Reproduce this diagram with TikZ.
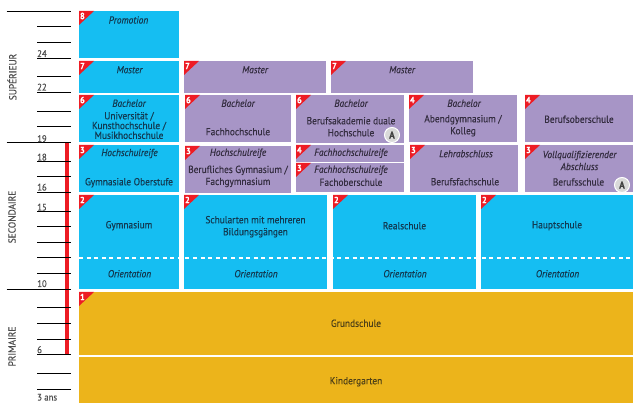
\documentclass[tikz,border=0pt]{standalone}
\usepackage{fontspec}
\setmainfont{PT Sans}[FakeStretch=0.92,FakeBold=0.35]
\usepackage{tikz}
\usetikzlibrary{positioning}

\definecolor{schoolblue}{HTML}{15BEF2}
\definecolor{schoolpurple}{HTML}{A795C6}
\definecolor{schoolyellow}{HTML}{ECB41B}
\definecolor{levelred}{HTML}{ED1C24}
\definecolor{inkblue}{HTML}{123A52}
\definecolor{inkpurple}{HTML}{342D40}
\definecolor{inkyellow}{HTML}{4F4117}

% level number in the corner of a box
\newcommand{\levelmark}[2]{%
  \fill[levelred] (#1.north west) -- ++(15,0) -- ++(-15,14) -- cycle;
  \node[leveldigit] (#1digit) at ([xshift=3.4pt,yshift=-5pt]#1.north west) {#2};
}

\begin{document}
\begin{tikzpicture}[
    x=1pt,y=-1pt,
    schoolbox/.style={anchor=north west,inner sep=0pt,outer sep=0pt},
    bluebox/.style={schoolbox,fill=schoolblue},
    purplebox/.style={schoolbox,fill=schoolpurple},
    yellowbox/.style={schoolbox,fill=schoolyellow},
    txt/.style={inner sep=0pt,font=\fontsize{10.2}{12}\selectfont,align=center,text=inkblue},
    ptxt/.style={txt,text=inkpurple},
    ytxt/.style={txt,text=inkyellow},
    ttl/.style={txt,font=\fontsize{10.2}{12}\itshape},
    pttl/.style={ttl,text=inkpurple},
    leveldigit/.style={inner sep=0pt,text=white,font=\fontsize{9}{9}\bfseries},
    agrade/.style={circle,fill=black!15,draw=white,line width=1pt,inner sep=0pt,minimum size=15pt,text=black!75,font=\fontsize{10}{10}\bfseries},
    agelbl/.style={anchor=base west,inner sep=0pt,text=black!70,font=\fontsize{9.5}{9}\selectfont},
    sidelbl/.style={rotate=90,inner sep=0pt,text=black!70,font=\fontsize{10.2}{9}\selectfont},
    tick/.style={line width=0.8pt,black},
  ]
  \useasboundingbox (0,0) rectangle (633,403);

  % age scale
  \fill[levelred] (65,142) rectangle (69,354.5);
  \foreach \y in {26.7,42.3,58,76.7,92.3,111,126.7,161.3,176.7,192.3,211,226.3,242.3,257.7,273.3,307.7,323.3,339,354.3,373.3,389}
    \draw[tick] (37,\y) -- (71,\y);
  \foreach \y in {11,142.3,289}
    \draw[tick] (6.5,\y) -- (71,\y);
  \node[agelbl] (age24) at (37,57) {24};
  \node[agelbl] (age22) at (37,90.5) {22};
  \node[agelbl] (age19) at (37,142) {19};
  \node[agelbl] (age18) at (37,160.5) {18};
  \node[agelbl] (age16) at (37,190.5) {16};
  \node[agelbl] (age15) at (37,210.5) {15};
  \node[agelbl] (age10) at (37,287) {10};
  \node[agelbl] (age6) at (37,353) {6};
  \node[agelbl] (age3) at (37,400.5) {3 ans};
  \node[sidelbl] (superieur) at (12,77) {SUPÉRIEUR};
  \node[sidelbl] (secondaire) at (12,217) {SECONDAIRE};
  \node[sidelbl] (primaire) at (12,346.5) {PRIMAIRE};

  % first column
  \node[bluebox,minimum width=100pt,minimum height=47pt] (promotion) at (79,11) {};
  \node[bluebox,minimum width=100pt,minimum height=32pt] (master) at (79,61) {};
  \node[bluebox,minimum width=100pt,minimum height=47pt] (uni) at (79,95) {};
  \node[bluebox,minimum width=100pt,minimum height=47pt] (oberstufe) at (79,145) {};
  \node[ttl] (promotionttl) at (128.5,20) {Promotion};
  \node[ttl] (masterttl) at (129.5,69.7) {Master};
  \node[ttl] (unittl) at (129,103.3) {Bachelor};
  \node[txt,font=\fontsize{10.2}{9.8}\selectfont] (unitxt) at (129,125.5) {Universität /\\Kunsthochschule /\\Musikhochschule};
  \node[ttl] (oberstufettl) at (129.5,153.5) {Hochschulreife};
  \node[txt] (oberstufetxt) at (129,182.7) {Gymnasiale Oberstufe};

  % master, other schools
  \node[purplebox,minimum width=142pt,minimum height=32pt] (masterb) at (184,61) {};
  \node[purplebox,minimum width=142pt,minimum height=32pt] (masterc) at (331,61) {};
  \node[pttl] (masterbttl) at (255,69.7) {Master};
  \node[pttl] (mastercttl) at (402,69.7) {Master};

  % bachelor row
  \node[purplebox,minimum width=106pt,minimum height=47pt] (fachhs) at (185,95) {};
  \node[purplebox,minimum width=108pt,minimum height=47.7pt] (akademie) at (296,95) {};
  \node[purplebox,minimum width=108pt,minimum height=47pt] (abend) at (409,95) {};
  \node[purplebox,minimum width=108pt,minimum height=47pt] (fos) at (525,95) {};
  \node[pttl] (fachhsttl) at (238,103.3) {Bachelor};
  \node[ptxt] (fachhstxt) at (238,131.7) {Fachhochschule};
  \node[pttl] (akademiettl) at (351,103.3) {Bachelor};
  \node[ptxt] (akademietxt) at (351,126.7) {Berufsakademie duale\\Hochschule};
  \node[pttl] (abendttl) at (464,103.3) {Bachelor};
  \node[ptxt] (abendtxt) at (463,125.7) {Abendgymnasium /\\Kolleg};
  \node[ptxt] (fostxt) at (579,119.3) {Berufsoberschule};

  % second row
  \node[purplebox,minimum width=106pt,minimum height=47pt] (berufsgym) at (185,146) {};
  \node[purplebox,minimum width=108pt,minimum height=16.7pt] (fachreife) at (296,145) {};
  \node[purplebox,minimum width=108pt,minimum height=28.7pt] (fachober) at (296,163) {};
  \node[purplebox,minimum width=108pt,minimum height=47pt] (lehre) at (410,145) {};
  \node[purplebox,minimum width=108pt,minimum height=47pt] (berufsschule) at (525,145) {};
  \node[pttl] (berufsgymttl) at (238,153.3) {Hochschulreife};
  \node[ptxt] (berufsgymtxt) at (238,176.4) {Berufliches Gymnasium /\\Fachgymnasium};
  \node[pttl] (fachreifettl) at (351,153.3) {Fachhochschulreife};
  \node[pttl] (fachoberttl) at (351,170.3) {Fachhochschulreife};
  \node[ptxt] (fachobertxt) at (351,182.3) {Fachoberschule};
  \node[pttl] (lehrettl) at (466,153.7) {Lehrabschluss};
  \node[ptxt] (lehretxt) at (465,181.7) {Berufsfachschule};
  \node[pttl] (berufsschulettl) at (579.5,160.5) {Vollqualifizierender\\Abschluss};
  \node[ptxt] (berufsschuletxt) at (578.5,182) {Berufsschule};

  % lower secondary
  \node[bluebox,minimum width=100pt,minimum height=94pt] (gymnasium) at (79,195) {};
  \node[bluebox,minimum width=143pt,minimum height=94pt] (mehrere) at (184,195) {};
  \node[bluebox,minimum width=143pt,minimum height=94pt] (realschule) at (333,195) {};
  \node[bluebox,minimum width=152pt,minimum height=94pt] (hauptschule) at (481,195) {};
  \coordinate (orientl) at (79,257.7);
  \coordinate (orientr) at (633,257.7);
  \draw[white,line width=2pt,dash pattern=on 4pt off 3.6pt] (orientl) -- (orientr);
  \node[txt] (gymnasiumtxt) at (129,225.7) {Gymnasium};
  \node[txt] (mehreretxt) at (255.5,226.7) {Schularten mit mehreren\\Bildungsgängen};
  \node[txt] (realschuletxt) at (404.5,225.7) {Realschule};
  \node[txt] (hauptschuletxt) at (557,225.7) {Hauptschule};
  \node[ttl] (orienta) at (129.5,273.7) {Orientation};
  \node[ttl] (orientb) at (256,273.7) {Orientation};
  \node[ttl] (orientc) at (405,273.7) {Orientation};
  \node[ttl] (orientd) at (557.5,273.7) {Orientation};

  % primary
  \node[yellowbox,minimum width=554pt,minimum height=63pt] (grundschule) at (79,292) {};
  \node[yellowbox,minimum width=554pt,minimum height=46pt] (kindergarten) at (79,357) {};
  \node[ytxt] (grundschuletxt) at (356,323.3) {Grundschule};
  \node[ytxt] (kindergartentxt) at (356,381.7) {Kindergarten};

  % levels
  \levelmark{promotion}{8}
  \levelmark{master}{7}
  \levelmark{masterb}{7}
  \levelmark{masterc}{7}
  \levelmark{uni}{6}
  \levelmark{fachhs}{6}
  \levelmark{akademie}{6}
  \levelmark{abend}{4}
  \levelmark{fos}{4}
  \levelmark{oberstufe}{3}
  \levelmark{berufsgym}{3}
  \levelmark{fachreife}{4}
  \levelmark{fachober}{3}
  \levelmark{lehre}{3}
  \levelmark{berufsschule}{3}
  \levelmark{gymnasium}{2}
  \levelmark{mehrere}{2}
  \levelmark{realschule}{2}
  \levelmark{hauptschule}{2}
  \levelmark{grundschule}{1}

  % A
  \node[agrade] (agradea) at (392,135) {A};
  \node[agrade] (agradeb) at (622,185) {A};
\end{tikzpicture}
\end{document}
